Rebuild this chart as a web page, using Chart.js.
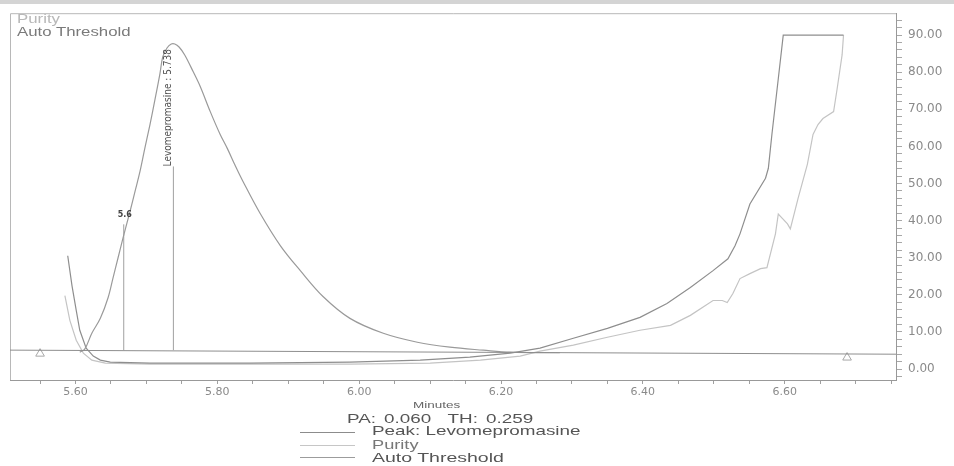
<!DOCTYPE html>
<html><head><meta charset="utf-8">
<script src="https://cdn.jsdelivr.net/npm/chart.js@4.4.1/dist/chart.umd.min.js"></script>
<style>
html,body{margin:0;padding:0;background:#fff;}
#wrap{position:relative;width:954px;height:466px;overflow:hidden;background:#fff;}
canvas{position:absolute;left:0;top:0;}
.t{position:absolute;white-space:nowrap;font-family:"Liberation Sans",Arial,sans-serif;transform-origin:0 50%;line-height:1;}
.ln{position:absolute;height:0;width:55px;left:300px;}
</style></head><body>
<div id="wrap"><canvas id="c" width="954" height="466"></canvas>
<div style="position:absolute;left:0;top:0;width:954px;height:4px;background:#d4d4d4"></div>
<div class="t" style="left:17px;top:13px;font-size:12px;color:#b8b8b8;transform:scaleX(1.4)">Purity</div>
<div class="t" style="left:17px;top:26px;font-size:12px;color:#7a7a7a;transform:scaleX(1.4)">Auto Threshold</div>
<div class="t" style="left:413px;top:401px;font-size:9px;color:#666;transform:scaleX(1.5)">Minutes</div>
<div class="t" style="left:347px;top:412px;font-size:13px;color:#555;transform:scaleX(1.45);word-spacing:2px">PA: 0.060&nbsp;&nbsp;TH: 0.259</div>
<div class="ln" style="top:432px;border-top:1px solid #8c8c8c"></div>
<div class="ln" style="top:445px;border-top:1px solid #c6c6c6"></div>
<div class="ln" style="top:457px;border-top:1px solid #9c9c9c"></div>
<div class="t" style="left:372px;top:424px;font-size:13px;color:#555;transform:scaleX(1.45)">Peak: Levomepromasine</div>
<div class="t" style="left:372px;top:438px;font-size:13px;color:#777;transform:scaleX(1.4)">Purity</div>
<div class="t" style="left:372px;top:451px;font-size:13px;color:#555;transform:scaleX(1.5)">Auto Threshold</div>
</div>
<script>
// ---- data (minutes, values) ----
const chromTimes = [5.606,5.613,5.623,5.635,5.646,5.653,5.660,5.667,5.677,5.684,5.691,5.698,5.705,5.712,5.719,5.723,5.729,5.735,5.740,5.746,5.754,5.766,5.776,5.790,5.804,5.814,5.825,5.836,5.860,5.889,5.917,5.949,5.987,6.034,6.082,6.128,6.175,6.213,6.283];
const chromValues = [4.55,5.36,9.64,13.66,19.29,24.64,30.00,35.36,42.59,47.95,53.31,59.74,65.90,72.60,79.56,84.11,86.53,87.60,87.60,86.79,84.65,80.10,76.08,69.38,63.22,59.47,54.92,50.63,42.06,33.22,26.52,19.55,13.66,9.64,7.23,5.89,5.09,4.55,4.40];

const thresholdTimes = [5.589,5.595,5.601,5.606,5.615,5.625,5.635,5.649,5.705,5.846,5.987,6.086,6.156,6.213,6.255,6.302,6.350,6.396,6.434,6.467,6.499,6.520,6.530,6.537,6.551,6.573,6.577,6.582,6.591,6.598,6.683];
const thresholdValues = [30.54,22.50,15.81,10.45,5.63,3.48,2.41,1.88,1.61,1.61,1.88,2.41,3.21,4.29,5.63,8.30,10.98,13.93,17.68,21.97,26.52,29.73,33.22,36.43,44.47,51.43,54.11,63.22,78.22,90.00,90.00];

const purityTimes = [5.585,5.592,5.601,5.611,5.623,5.642,5.705,5.846,5.987,6.100,6.171,6.227,6.255,6.302,6.350,6.396,6.439,6.467,6.499,6.512,6.519,6.527,6.537,6.551,6.566,6.575,6.587,6.591,6.604,6.608,6.619,6.632,6.640,6.647,6.654,6.669,6.674,6.681,6.683];
const purityValues = [19.82,13.13,7.77,4.29,2.41,1.61,1.34,1.34,1.34,1.61,2.41,3.48,4.82,6.43,8.57,10.45,11.79,14.47,18.48,18.48,17.95,20.36,24.38,25.72,27.06,27.32,36.43,41.79,39.11,37.77,46.08,55.18,63.22,65.90,67.51,69.38,75.54,84.65,90.00];

const baselineTimes = [5.5076, 6.757];
const baselineValues = [5.1, 4.0];

const triangleTimes = [5.55, 6.688];
const triangleValues = [4.15, 3.1];

const markTimes = [5.668, 5.738];
const markTops = [39.0, 54.6];
const markBottoms = [5.1, 5.1];
const markLabels = ['5.6', 'Levomepromasine : 5.738'];

const xTickLabels = ['5.60','5.80','6.00','6.20','6.40','6.60'];
const yTickLabels = ['0.00','10.00','20.00','30.00','40.00','50.00','60.00','70.00','80.00','90.00'];

// ---- build ----
const pts = (ts, vs) => ts.map((t, i) => ({x: t, y: vs[i]}));

const markDatasets = markTimes.map((t, i) => ({
  data: [{x: t, y: markBottoms[i]}, {x: t, y: markTops[i]}],
  showLine: true, borderColor: '#a0a0a0', borderWidth: 1, pointRadius: 0, tension: 0
}));

const framePlugin = {
  id: 'frame',
  beforeDatasetsDraw(chart) {
    const {ctx, chartArea: a} = chart;
    ctx.save();
    ctx.strokeStyle = '#b8b8b8';
    ctx.lineWidth = 1;
    ctx.beginPath();
    ctx.moveTo(a.left + 0.5, a.bottom);
    ctx.lineTo(a.left + 0.5, a.top + 0.5);
    ctx.lineTo(a.right, a.top + 0.5);
    ctx.stroke();
    ctx.restore();
  }
};

const labelPlugin = {
  id: 'marklabels',
  afterDatasetsDraw(chart) {
    const {ctx} = chart;
    const xs = chart.scales.x, ys = chart.scales.y;
    ctx.save();
    ctx.fillStyle = '#444';
    ctx.font = 'bold 8px "DejaVu Sans", sans-serif';
    ctx.textAlign = 'center';
    ctx.textBaseline = 'middle';
    ctx.fillText(markLabels[0], xs.getPixelForValue(markTimes[0]) + 1, ys.getPixelForValue(markTops[0]) - 9);
    ctx.translate(xs.getPixelForValue(markTimes[1]) - 5, ys.getPixelForValue(markTops[1]));
    ctx.rotate(-Math.PI / 2);
    ctx.font = '10px "DejaVu Sans Condensed", "DejaVu Sans", sans-serif';
    ctx.textAlign = 'left';
    ctx.fillStyle = '#505050';
    ctx.fillText(markLabels[1], 0, 0, 120);
    ctx.restore();
  }
};

new Chart(document.getElementById('c'), {
  type: 'scatter',
  data: {
    datasets: [
      {label: 'Baseline', data: pts(baselineTimes, baselineValues), showLine: true, borderColor: '#8e8e8e', borderWidth: 1, pointRadius: 0, tension: 0},
      {label: 'Peak: Levomepromasine', data: pts(chromTimes, chromValues), showLine: true, borderColor: '#9a9a9a', borderWidth: 1.2, pointRadius: 0, tension: 0.35},
      {label: 'Auto Threshold', data: pts(thresholdTimes, thresholdValues), showLine: true, borderColor: '#8e8e8e', borderWidth: 1.2, pointRadius: 0, tension: 0},
      {label: 'Purity', data: pts(purityTimes, purityValues), showLine: true, borderColor: '#c4c4c4', borderWidth: 1.2, pointRadius: 0, tension: 0},
      {label: 'Markers', data: pts(triangleTimes, triangleValues), showLine: false, pointStyle: 'triangle', pointRadius: 5, borderColor: '#a8a8a8', backgroundColor: 'rgba(0,0,0,0)', borderWidth: 1},
      ...markDatasets
    ]
  },
  options: {
    responsive: false,
    animation: false,
    layout: {padding: {left: 10, top: 11, right: 0, bottom: 0}},
    plugins: {legend: {display: false}, tooltip: {enabled: false}},
    scales: {
      x: {
        type: 'linear', position: 'bottom', min: 5.5076, max: 6.757,
        ticks: {
          stepSize: 0.05, autoSkip: false, maxRotation: 0, minRotation: 0, includeBounds: false,
          callback: v => { const s = Number(v).toFixed(2); return xTickLabels.includes(s) ? s : ''; },
          color: '#8a8a8a', font: {family: 'DejaVu Sans', size: 11}, padding: 2
        },
        grid: {drawOnChartArea: false, drawTicks: true, tickLength: 4, color: '#a0a0a0'},
        border: {color: '#999'},
        afterFit(s) { s.height = 86; }
      },
      y: {
        type: 'linear', position: 'right', min: -2.95, max: 95.9,
        ticks: {
          stepSize: 2, autoSkip: false, includeBounds: false,
          callback: v => { const r = Math.round(v); return (Math.abs(v - r) < 1e-6 && r >= 0 && r % 10 === 0) ? yTickLabels[r / 10] : ''; },
          color: '#8a8a8a', font: {family: 'DejaVu Sans', size: 12}, padding: 6
        },
        grid: {drawOnChartArea: false, drawTicks: true, tickLength: 6, color: '#a8a8a8'},
        border: {color: '#999'},
        afterFit(s) { s.width = 58; }
      }
    }
  },
  plugins: [framePlugin, labelPlugin]
});
</script>
</body></html>
